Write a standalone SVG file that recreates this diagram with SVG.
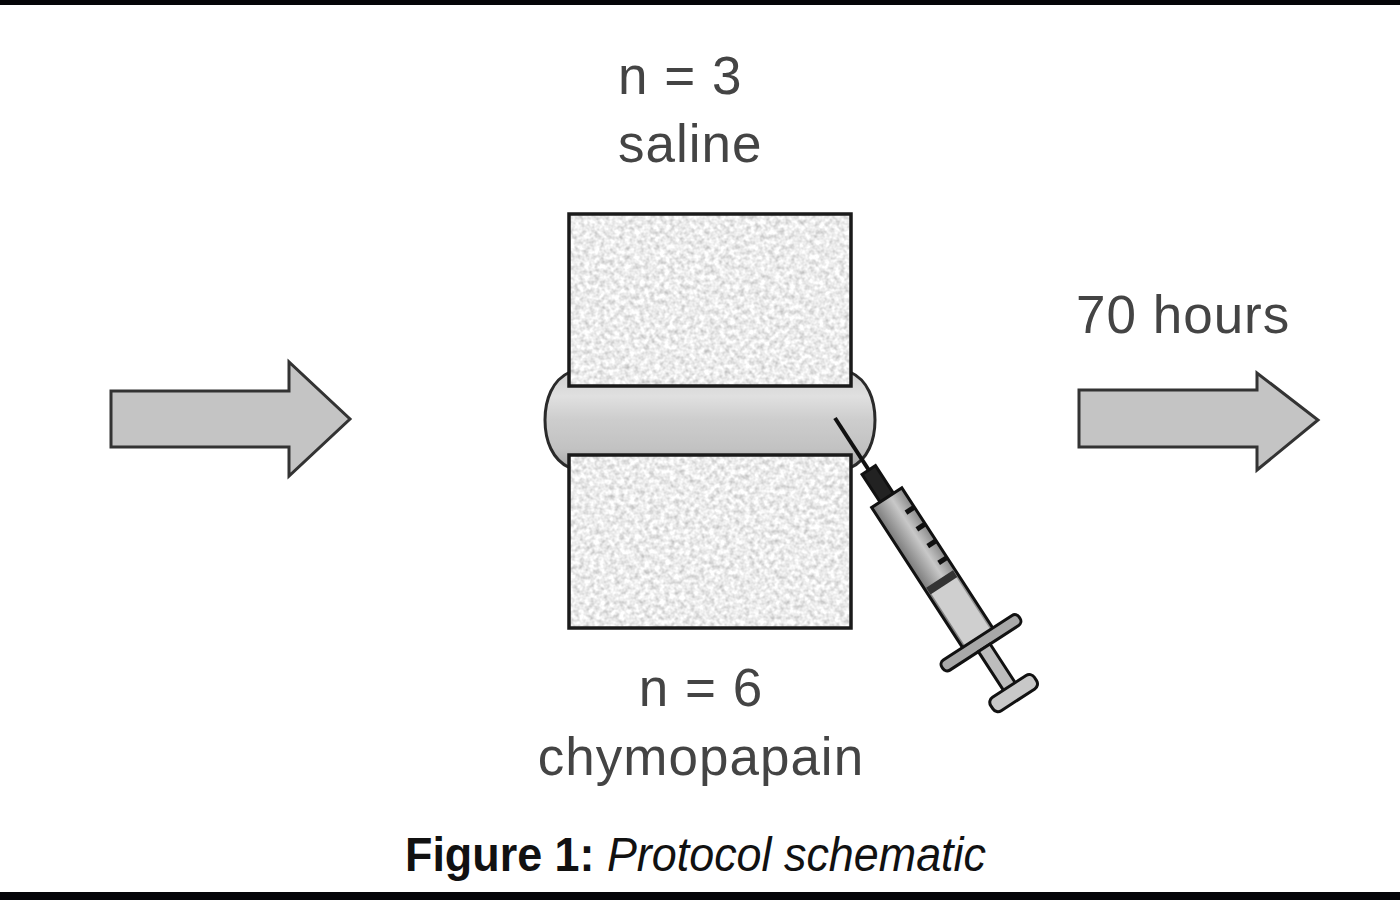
<svg xmlns="http://www.w3.org/2000/svg" width="1400" height="900" viewBox="0 0 1400 900">
  <style>
    .lbl { font-family: "Liberation Sans", Arial, sans-serif; font-size: 53px; fill: #444; letter-spacing: 1px; }
    .cap { font-family: "Liberation Sans", Arial, sans-serif; font-size: 48px; fill: #111; }
    .arrow { fill: #c4c4c4; stroke: #333; stroke-width: 3; stroke-linejoin: miter; }
    .vert { fill: #e2e2e2; }
    .vertline { fill: none; stroke: #1a1a1a; stroke-width: 3.5; }
    .syr { stroke: #111; stroke-width: 3; }
  </style>
  <defs>
    <filter id="speckle" x="0" y="0" width="1" height="1" filterUnits="objectBoundingBox">
      <feTurbulence type="fractalNoise" baseFrequency="0.2" numOctaves="2" seed="7" result="n"/>
      <feColorMatrix in="n" type="matrix" values="0.8 0 0 0 0.44  0.8 0 0 0 0.44  0.8 0 0 0 0.44  0 0 0 0 1" result="g"/>
      <feComposite in="g" in2="SourceGraphic" operator="in"/>
    </filter>
    <linearGradient id="discGrad" x1="0" y1="0" x2="0" y2="1">
      <stop offset="0" stop-color="#cfcfcf"/>
      <stop offset="0.25" stop-color="#e0e0e0"/>
      <stop offset="0.5" stop-color="#cdcdcd"/>
      <stop offset="0.8" stop-color="#c2c2c2"/>
      <stop offset="1" stop-color="#a6a6a6"/>
    </linearGradient>
    <linearGradient id="barrelGrad" x1="0" y1="0" x2="0" y2="1">
      <stop offset="0" stop-color="#8a8a8a"/>
      <stop offset="0.4" stop-color="#c8c8c8"/>
      <stop offset="1" stop-color="#7a7a7a"/>
    </linearGradient>
  </defs>

  <rect x="0" y="0" width="1400" height="900" fill="#ffffff"/>
  <rect x="0" y="0" width="1400" height="5" fill="#050508"/>
  <rect x="0" y="892" width="1400" height="8" fill="#050508"/>

  <g id="label-saline">
    <text class="lbl" x="618" y="94">n = 3</text>
    <text class="lbl" x="618" y="162">saline</text>
  </g>

  <g id="arrow-left">
    <polygon class="arrow" points="111,391 289,391 289,362 350,419 289,476 289,447 111,447"/>
  </g>

  <g id="disc">
    <path d="M570,372 C552,380 545,400 545,420 C545,440 552,460 570,468 L850,468 C868,460 875,440 875,420 C875,400 868,380 850,372 Z" fill="url(#discGrad)" stroke="#2a2a2a" stroke-width="3"/>
  </g>

  <g id="vertebra-upper">
    <rect x="569" y="214" width="282" height="172" class="vert" filter="url(#speckle)"/>
    <rect x="569" y="214" width="282" height="172" class="vertline"/>
  </g>

  <g id="vertebra-lower">
    <rect x="569" y="455" width="282" height="173" class="vert" filter="url(#speckle)"/>
    <rect x="569" y="455" width="282" height="173" class="vertline"/>
  </g>

  <g id="syringe" transform="translate(835,418) rotate(57)">
    <line x1="0" y1="0" x2="72" y2="0" stroke="#111" stroke-width="4"/>
    <rect x="62" y="-8" width="36" height="16" fill="#222" class="syr"/>
    <rect x="95" y="-18" width="170" height="36" fill="url(#barrelGrad)" class="syr"/>
    <rect x="196" y="-15" width="69" height="30" fill="#cfcfcf" stroke="none"/>
    <rect x="192" y="-16" width="8" height="32" fill="#333"/>
    <line x1="118" y1="-18" x2="118" y2="-8" stroke="#111" stroke-width="5"/>
    <line x1="138" y1="-18" x2="138" y2="-8" stroke="#111" stroke-width="5"/>
    <line x1="158" y1="-18" x2="158" y2="-8" stroke="#111" stroke-width="5"/>
    <line x1="178" y1="-18" x2="178" y2="-8" stroke="#111" stroke-width="5"/>
    <rect x="262" y="-46" width="12" height="92" rx="5" fill="#a8a8a8" class="syr"/>
    <rect x="274" y="-7" width="48" height="14" fill="#bdbdbd" class="syr"/>
    <rect x="320" y="-26" width="16" height="52" rx="6" fill="#c8c8c8" class="syr"/>
  </g>

  <g id="label-hours">
    <text class="lbl" x="1076" y="333">70 hours</text>
  </g>

  <g id="arrow-right">
    <polygon class="arrow" points="1079,390 1257,390 1257,373 1318,420 1257,470 1257,447 1079,447"/>
  </g>

  <g id="label-chymopapain">
    <text class="lbl" x="701" y="706" text-anchor="middle">n = 6</text>
    <text class="lbl" x="701" y="775" text-anchor="middle">chymopapain</text>
  </g>

  <g id="caption">
    <text class="cap" transform="translate(405,871) scale(0.935,1)"><tspan font-weight="bold">Figure 1:</tspan><tspan font-style="italic"> Protocol schematic</tspan></text>
  </g>

  <g id="connectors"></g>
</svg>
